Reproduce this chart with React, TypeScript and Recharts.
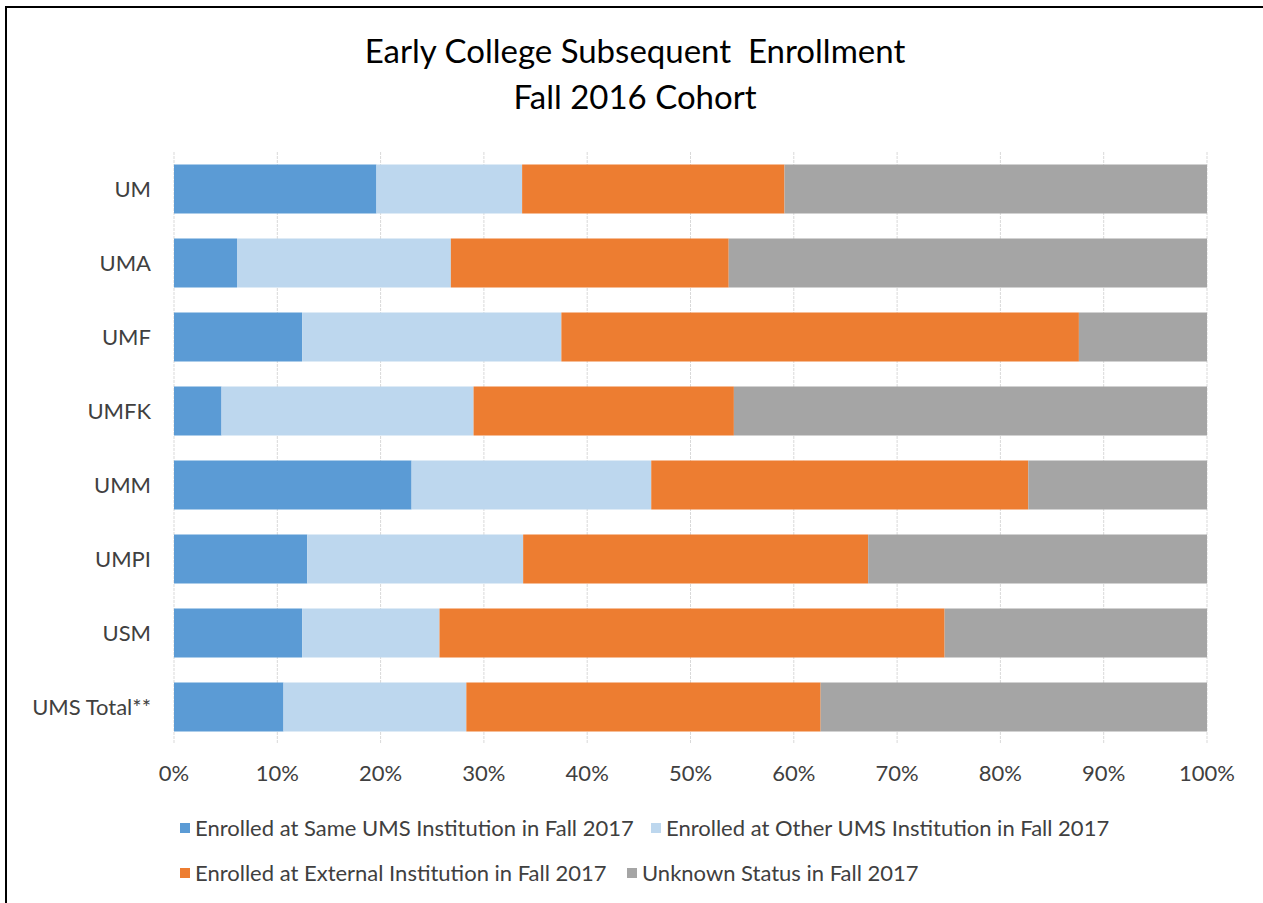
import React from "react";
import {
  BarChart,
  Bar,
  XAxis,
  YAxis,
  CartesianGrid,
} from "recharts";

const institutions = ["UM", "UMA", "UMF", "UMFK", "UMM", "UMPI", "USM", "UMS Total**"];

// percent of cohort
const sameUms = [19.6, 6.1, 12.4, 4.6, 23.0, 12.9, 12.4, 10.6];
const otherUms = [14.1, 20.7, 25.1, 24.4, 23.2, 20.9, 13.3, 17.7];
const external = [25.4, 26.9, 50.1, 25.2, 36.5, 33.4, 48.9, 34.3];
const unknown = [40.9, 46.3, 12.4, 45.8, 17.3, 32.8, 25.4, 37.4];

const xTicks = [0, 10, 20, 30, 40, 50, 60, 70, 80, 90, 100];

const series = [
  { key: "same", name: "Enrolled at Same UMS Institution in Fall 2017", color: "#5B9BD5" },
  { key: "other", name: "Enrolled at Other UMS Institution in Fall 2017", color: "#BDD7EE" },
  { key: "external", name: "Enrolled at External Institution in Fall 2017", color: "#ED7D31" },
  { key: "unknown", name: "Unknown Status in Fall 2017", color: "#A5A5A5" },
];

const data = institutions.map((name, i) => ({
  name,
  same: sameUms[i],
  other: otherUms[i],
  external: external[i],
  unknown: unknown[i],
}));

const FONT = "Lato, 'Open Sans', sans-serif";
const TEXT = "#404040";

// legend rows placed like the original (two items per row)
const legendPos = [
  { left: 180, top: 814 },
  { left: 651, top: 814 },
  { left: 180, top: 859 },
  { left: 627, top: 859 },
];

export default function App() {
  return (
    <div
      style={{
        position: "absolute",
        left: 0,
        top: 0,
        width: 1263,
        height: 903,
        overflow: "hidden",
        background: "#fff",
        fontFamily: FONT,
      }}
    >
      <div
        style={{
          position: "absolute",
          left: 5,
          top: 6,
          width: 1400,
          height: 1000,
          borderLeft: "2px solid #000",
          borderTop: "2px solid #000",
        }}
      />
      <div
        style={{
          position: "absolute",
          left: 0,
          top: 27,
          width: 1270,
          textAlign: "center",
          fontSize: 33,
          lineHeight: "46px",
          color: "#000",
        }}
      >
        <div>Early College Subsequent&nbsp; Enrollment</div>
        <div>Fall 2016 Cohort</div>
      </div>

      <div style={{ position: "absolute", left: 0, top: 0 }}>
        <BarChart
          width={1263}
          height={903}
          data={data}
          layout="vertical"
          barCategoryGap="17%"
          margin={{ top: 152, right: 56, bottom: 149, left: 0 }}
        >
          <CartesianGrid
            horizontal={false}
            stroke="#d9d9d9"
            strokeDasharray="3 1"
          />
          <XAxis
            type="number"
            domain={[0, 100]}
            ticks={xTicks}
            tickFormatter={(v) => `${v}%`}
            axisLine={false}
            tickLine={false}
            tickSize={0}
            tickMargin={21}
            height={10}
            interval={0}
            tick={{ fontSize: 22, fill: TEXT, fontFamily: FONT }}
          />
          <YAxis
            type="category"
            dataKey="name"
            width={174}
            axisLine={false}
            tickLine={false}
            tickSize={0}
            tickMargin={23}
            interval={0}
            tick={{ fontSize: 22, fill: TEXT, fontFamily: FONT }}
          />
          {series.map((s) => (
            <Bar
              key={s.key}
              dataKey={s.key}
              name={s.name}
              stackId="a"
              fill={s.color}
              isAnimationActive={false}
            />
          ))}
        </BarChart>
      </div>

      {series.map((s, i) => (
        <div
          key={s.key}
          style={{
            position: "absolute",
            left: legendPos[i].left,
            top: legendPos[i].top,
            display: "flex",
            alignItems: "center",
            fontSize: 22,
            color: TEXT,
            whiteSpace: "nowrap",
          }}
        >
          <span
            style={{
              display: "inline-block",
              width: 10,
              height: 10,
              background: s.color,
              marginRight: 5,
            }}
          />
          {s.name}
        </div>
      ))}
    </div>
  );
}
